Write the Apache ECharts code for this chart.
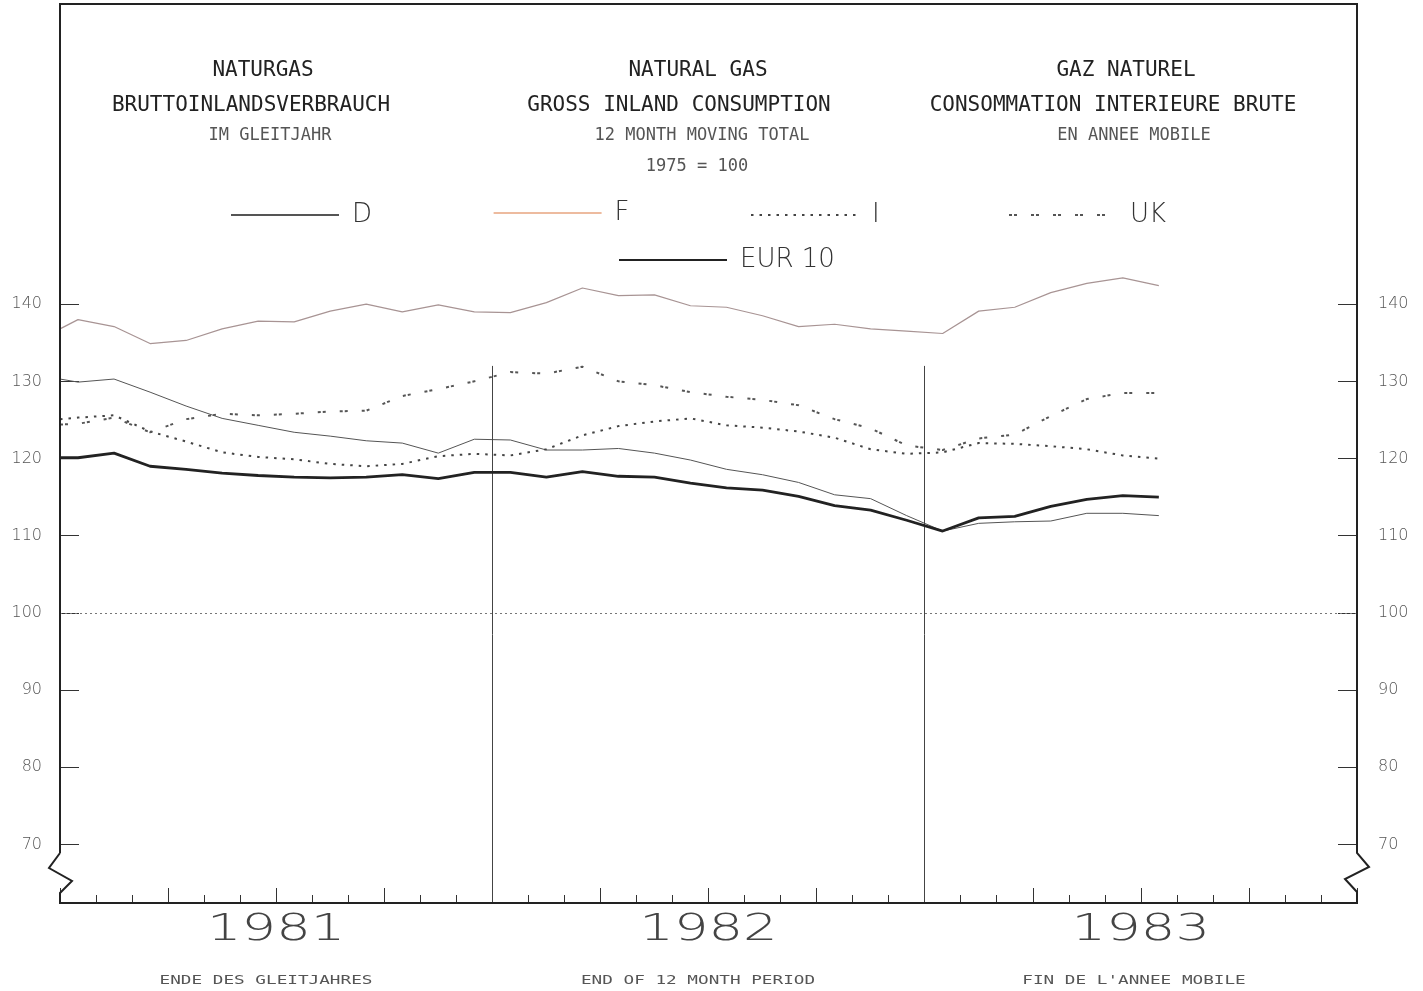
<!DOCTYPE html>
<html>
<head>
<meta charset="utf-8">
<title>Naturgas - Bruttoinlandsverbrauch</title>
<script src="https://cdn.jsdelivr.net/npm/echarts@6.0.0/dist/echarts.min.js"></script>
<style>
  html, body { margin: 0; padding: 0; background: #fff; }
  #chart { width: 1423px; height: 991px; }
</style>
</head>
<body>
<div id="chart"></div>
<script>
// x = months since Jan 1981 (0 = left frame, values plotted mid-month), Jan 81 .. Jul 83
const monthPos = [0].concat(Array.from({ length: 31 }, (_, i) => i + 0.5));
const yearLabels = ['1981', '1982', '1983'];
const yTicks = [70, 80, 90, 100, 110, 120, 130, 140];

// 12 month moving total, 1975 = 100
const dataD = [130.3, 129.9, 130.3, 128.6, 126.8, 125.2, 124.3, 123.4, 122.9, 122.3, 122.0, 120.7, 122.5,
  122.4, 121.1, 121.1, 121.3, 120.7, 119.8, 118.6, 117.9, 116.9, 115.3, 114.8, 112.6,
  110.6, 111.6, 111.8, 111.9, 112.9, 112.9, 112.6];
const dataF = [136.8, 138.0, 137.1, 134.9, 135.3, 136.8, 137.8, 137.7, 139.1, 140.0, 139.0, 139.9, 139.0,
  138.9, 140.2, 142.1, 141.1, 141.2, 139.8, 139.6, 138.5, 137.1, 137.4, 136.8, 136.5,
  136.2, 139.1, 139.6, 141.5, 142.7, 143.4, 142.4];
const dataI = [125.1, 125.3, 125.6, 123.5, 122.2, 120.8, 120.2, 119.9, 119.3, 119.0, 119.3, 120.3, 120.6,
  120.4, 121.2, 123.0, 124.2, 124.8, 125.2, 124.3, 124.0, 123.5, 122.7, 121.2, 120.6,
  120.8, 122.0, 121.9, 121.6, 121.2, 120.4, 120.0];
const dataUK = [124.4, 124.5, 125.3, 123.4, 125.1, 125.8, 125.6, 125.8, 126.1, 126.2, 128.1, 129.0, 130.0,
  131.2, 131.0, 131.9, 130.0, 129.5, 128.6, 128.0, 127.6, 126.9, 125.1, 123.9, 121.7,
  121.1, 122.6, 123.1, 125.5, 127.7, 128.5, 128.5];
const dataEUR = [120.1, 120.1, 120.7, 119.0, 118.6, 118.1, 117.8, 117.6, 117.5, 117.6, 117.9, 117.4, 118.2,
  118.2, 117.6, 118.3, 117.7, 117.6, 116.8, 116.2, 115.9, 115.1, 113.9, 113.3, 112.0,
  110.6, 112.3, 112.5, 113.8, 114.7, 115.2, 115.0];

const Y_MIN = 62.4;
const Y_MAX = 178.9;

const chart = echarts.init(document.getElementById('chart'));

function pairs(values) {
  return monthPos.map((m, i) => [m, values[i]]);
}

function oneLegend(name, left, top) {
  return {
    data: [name],
    left: left,
    top: top,
    itemWidth: 108,
    itemHeight: 14,
    selectedMode: false,
    itemStyle: { opacity: 0 },
    textStyle: {
      fontFamily: 'DejaVu Sans',
      fontSize: 26,
      fontWeight: 300,
      color: '#333',
      padding: [0, 0, 0, 8],
    },
  };
}

const yAxisBase = {
  type: 'value',
  min: Y_MIN,
  max: Y_MAX,
  axisLine: { show: false },
  splitLine: { show: false },
  axisTick: {
    show: true,
    inside: true,
    length: 19,
    customValues: yTicks,
    lineStyle: { color: '#333', width: 1 },
  },
  axisLabel: {
    customValues: yTicks,
    fontFamily: 'DejaVu Sans',
    fontSize: 16,
    fontWeight: 300,
    color: '#555',
  },
};

const option = {
  backgroundColor: '#fff',
  animation: false,
  grid: { left: 60, top: 4, width: 1297, height: 899 },
  legend: [
    oneLegend('D', 225, 197),
    oneLegend('F', 488, 195),
    oneLegend('I', 745, 197),
    oneLegend('UK', 1003, 197),
    oneLegend('EUR 10', 613, 242),
  ],
  xAxis: {
    type: 'value',
    min: 0,
    max: 36,
    interval: 3,
    axisLine: { show: false },
    splitLine: { show: false },
    axisLabel: { show: false },
    axisTick: {
      show: true,
      inside: true,
      length: 15,
      lineStyle: { color: '#333', width: 1 },
    },
    minorTick: {
      show: true,
      splitNumber: 3,
      length: 8,
      lineStyle: { color: '#333', width: 1 },
    },
    minorSplitLine: { show: false },
  },
  yAxis: [
    Object.assign({}, yAxisBase, {
      position: 'left',
      axisLabel: Object.assign({}, yAxisBase.axisLabel, { margin: 18 }),
    }),
    Object.assign({}, yAxisBase, {
      position: 'right',
      axisLabel: Object.assign({}, yAxisBase.axisLabel, { margin: 21 }),
    }),
  ],
  series: [
    {
      name: 'D',
      type: 'line',
      data: pairs(dataD),
      symbol: 'none',
      clip: true,
      lineStyle: { color: '#555', width: 1 },
      itemStyle: { color: '#555' },
      z: 3,
      markLine: {
        silent: true,
        symbol: ['none', 'none'],
        label: { show: false },
        data: [
          [{ coord: [12, Y_MIN], lineStyle: { color: '#444', width: 1, type: 'solid' } }, { coord: [12, 132] }],
          [{ coord: [24, Y_MIN], lineStyle: { color: '#444', width: 1, type: 'solid' } }, { coord: [24, 132] }],
          { yAxis: 100, lineStyle: { color: '#777', width: 1, type: [2, 3] } },
        ],
      },
    },
    {
      name: 'F',
      type: 'line',
      data: pairs(dataF),
      symbol: 'none',
      clip: true,
      lineStyle: { color: '#a89494', width: 1.2 },
      itemStyle: { color: '#a89494' },
      z: 3,
    },
    {
      name: 'I',
      type: 'line',
      data: pairs(dataI),
      symbol: 'none',
      clip: true,
      lineStyle: { color: '#444', width: 2, type: [2.5, 6] },
      itemStyle: { color: '#444' },
      z: 4,
    },
    {
      name: 'UK',
      type: 'line',
      data: pairs(dataUK),
      symbol: 'none',
      clip: true,
      lineStyle: { color: '#555', width: 2, type: [3, 2, 3, 14] },
      itemStyle: { color: '#555' },
      z: 4,
    },
    {
      name: 'EUR 10',
      type: 'line',
      data: pairs(dataEUR),
      symbol: 'none',
      clip: true,
      lineStyle: { color: '#222', width: 2.8 },
      itemStyle: { color: '#222' },
      z: 5,
    },
  ],
};

chart.setOption(option);

// orange line for F in the legend
chart.setOption({
  legend: [{}, { data: [{ name: 'F', lineStyle: { color: '#dc7840', width: 1.2 } }] }],
});

// frame with axis-break zigzags, header, footer and year labels
const gl = chart.convertToPixel({ xAxisIndex: 0 }, 0);
const gr = chart.convertToPixel({ xAxisIndex: 0 }, 36);
const gt = chart.convertToPixel({ yAxisIndex: 0 }, Y_MAX);
const gb = chart.convertToPixel({ yAxisIndex: 0 }, Y_MIN);
const brk = gb - 50;

const framePoints = [
  [gl, brk], [gl, gt], [gr, gt], [gr, brk],
  [gr + 12, brk + 14], [gr - 12, brk + 26], [gr, brk + 39], [gr, gb],
  [gl, gb], [gl, brk + 40], [gl + 12, brk + 28], [gl - 11, brk + 15], [gl, brk],
];

function monoText(text, x, y, size, color, sx) {
  return {
    type: 'text',
    x: x,
    y: y,
    scaleX: sx || 1,
    silent: true,
    style: {
      text: text,
      fontFamily: 'DejaVu Sans Mono',
      fontSize: size,
      fill: color,
      textAlign: 'center',
      textVerticalAlign: 'middle',
    },
  };
}

const elements = [
  {
    type: 'polyline',
    silent: true,
    shape: { points: framePoints },
    style: { stroke: '#222', lineWidth: 2, fill: null },
    z: 10,
  },
  monoText('NATURGAS', 263, 71, 21, '#222'),
  monoText('BRUTTOINLANDSVERBRAUCH', 251, 106, 21, '#222'),
  monoText('IM GLEITJAHR', 270, 136, 17, '#555'),
  monoText('NATURAL GAS', 698, 71, 21, '#222'),
  monoText('GROSS INLAND CONSUMPTION', 679, 106, 21, '#222'),
  monoText('12 MONTH MOVING TOTAL', 702, 136, 17, '#555'),
  monoText('1975 = 100', 697, 167, 17, '#555'),
  monoText('GAZ NATUREL', 1126, 71, 21, '#222'),
  monoText('CONSOMMATION INTERIEURE BRUTE', 1113, 106, 21, '#222'),
  monoText('EN ANNEE MOBILE', 1134, 136, 17, '#555'),
  monoText('ENDE DES GLEITJAHRES', 266, 981, 13, '#555', 1.36),
  monoText('END OF 12 MONTH PERIOD', 698, 981, 13, '#555', 1.36),
  monoText("FIN DE L'ANNEE MOBILE", 1134, 981, 13, '#555', 1.36),
];

yearLabels.forEach((label, i) => {
  const cx = chart.convertToPixel({ xAxisIndex: 0 }, i * 12 + 6);
  elements.push({
    type: 'text',
    x: cx,
    y: gb + 27,
    scaleX: 1.47,
    silent: true,
    style: {
      text: label,
      fontFamily: 'DejaVu Sans',
      fontSize: 37,
      fontWeight: 300,
      fill: '#444',
      textAlign: 'center',
      textVerticalAlign: 'middle',
    },
  });
});

chart.setOption({ graphic: { elements: elements } });
</script>
</body>
</html>
